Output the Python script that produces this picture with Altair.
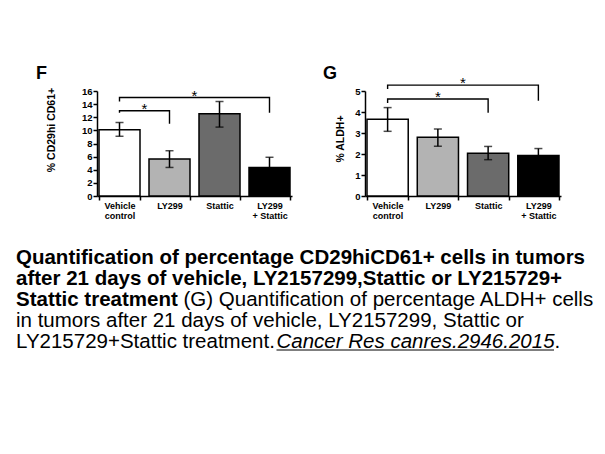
import altair as alt
import pandas as pd

FONT = "Liberation Sans"

# Treatment groups; "\n" breaks an axis label over two lines
groups = ["Vehicle\ncontrol", "LY299", "Stattic", "LY299\n+ Stattic"]
palette = ["#ffffff", "#b3b3b3", "#6b6b6b", "#000000"]

# Panel F: % CD29hi CD61+ (mean, lower and upper error)
cd29_mean = [10.1, 5.65, 12.55, 4.35]
cd29_low = [9.1, 4.35, 10.5, 2.8]
cd29_high = [11.2, 6.9, 14.4, 5.9]

# Panel G: % ALDH+ (mean, lower and upper error)
aldh_mean = [3.66, 2.8, 2.04, 1.93]
aldh_low = [3.08, 2.37, 1.73, 1.6]
aldh_high = [4.21, 3.19, 2.36, 2.26]

# Significance brackets: compared group indices, bracket level, leg ends
cd29_br_a = [0, 0]
cd29_br_b = [1, 3]
cd29_br_top = [13.0, 15.0]
cd29_br_left = [12.7, 14.4]
cd29_br_right = [11.0, 12.7]

aldh_br_a = [0, 0]
aldh_br_b = [2, 3]
aldh_br_top = [4.62, 5.28]
aldh_br_left = [4.43, 5.1]
aldh_br_right = [3.96, 4.53]

# Caption text
caption_bold = [
    "Quantification of percentage CD29hiCD61+ cells in tumors",
    "after 21 days of vehicle, LY2157299,Stattic or LY215729+",
    "Stattic treatment",
]
caption_plain = [
    "(G) Quantification of percentage ALDH+ cells",
    "in tumors after 21 days of vehicle, LY2157299, Stattic or",
    "LY215729+Stattic treatment.",
    ".",
]
caption_cite = "Cancer Res canres.2946.2015"

PAD_INNER = 0.18
PAD_OUTER = 0.04
# linear index domain that lines up with the band centres of the x scale
IDX_LO = -(PAD_OUTER + (1 - PAD_INNER) / 2)
IDX_HI = len(groups) - 1 + PAD_OUTER + (1 - PAD_INNER) / 2


def label(text, x, y, size, weight="bold", style="normal", align="left",
          baseline="alphabetic", angle=0):
    return alt.Chart(pd.DataFrame({"t": [text]})).mark_text(
        align=align, baseline=baseline, fontSize=size, fontWeight=weight,
        fontStyle=style, font=FONT, color="black", angle=angle,
    ).encode(text="t:N", x=alt.value(x), y=alt.value(y))


def panel(mean, low, high, br_a, br_b, br_top, br_left, br_right,
          ymax, ystep, letter, ytitle, letter_x, title_x, title_y, width, height):
    df = pd.DataFrame({"group": groups, "mean": mean, "low": low, "high": high})
    yscale = alt.Scale(domain=[0, ymax], nice=False, zero=True)
    yaxis = alt.Axis(title=None, values=list(range(0, ymax + 1, ystep)))
    xscale = alt.Scale(paddingInner=PAD_INNER, paddingOuter=PAD_OUTER)
    xaxis = alt.Axis(title=None, labelAngle=0, tickBand="extent",
                     labelExpr="split(datum.label, '\\n')",
                     labelLineHeight=10.5, labelPadding=1, labelFontSize=9)
    xband = alt.X("group:N", sort=groups, scale=xscale, axis=xaxis)

    def yenc(field):
        return alt.Y(field, scale=yscale, axis=yaxis)

    base = alt.Chart(df)
    bars = base.mark_bar(stroke="black", strokeWidth=1.5).encode(
        x=xband, y=yenc("mean:Q"),
        fill=alt.Fill("group:N", sort=groups,
                      scale=alt.Scale(domain=groups, range=palette), legend=None),
    )
    err = base.mark_rule(color="black", strokeWidth=1.5).encode(
        x=xband, y=yenc("low:Q"), y2="high:Q")
    cap_hi = base.mark_tick(color="black", thickness=1.5, size=8).encode(
        x=xband, y=yenc("high:Q"))
    cap_lo = base.mark_tick(color="black", thickness=1.5, size=8).encode(
        x=xband, y=yenc("low:Q"))
    data_layer = alt.layer(bars, err, cap_hi, cap_lo)

    # bracket paths: left leg, bar, right leg
    rows = []
    for k in range(len(br_a)):
        pts = [(br_a[k], br_left[k]), (br_a[k], br_top[k]),
               (br_b[k], br_top[k]), (br_b[k], br_right[k])]
        for s, (p, v) in enumerate(pts):
            rows.append({"bracket": k, "step": s, "pos": p, "val": v})
    br_df = pd.DataFrame(rows)
    xidx = alt.Scale(domain=[IDX_LO, IDX_HI], nice=False, zero=False)
    brackets = alt.Chart(br_df).mark_line(color="black", strokeWidth=1.4).encode(
        x=alt.X("pos:Q", scale=xidx, axis=None),
        y=yenc("val:Q"),
        detail="bracket:N", order="step:O")
    star_df = pd.DataFrame({"a": br_a, "b": br_b, "top": br_top})
    stars = alt.Chart(star_df).transform_calculate(
        mid="(datum.a + datum.b) / 2"
    ).mark_text(text="*", fontSize=15, font=FONT, color="black",
                baseline="alphabetic", dy=3).encode(
        x=alt.X("mid:Q", scale=xidx, axis=None),
        y=yenc("top:Q"))
    notes = alt.layer(brackets, stars)

    tag = label(letter, letter_x, -12, 18)
    title = label(ytitle, title_x, title_y, 10.5, align="center",
                  baseline="middle", angle=270)

    return alt.layer(data_layer, notes, tag, title).resolve_scale(
        x="independent").properties(width=width, height=height)


panel_f = panel(cd29_mean, cd29_low, cd29_high, cd29_br_a, cd29_br_b, cd29_br_top,
                cd29_br_left, cd29_br_right, 16, 2, "F", "% CD29hi CD61+",
                -61, -45, 39, 195, 105)
panel_g = panel(aldh_mean, aldh_low, aldh_high, aldh_br_a, aldh_br_b, aldh_br_top,
                aldh_br_left, aldh_br_right, 5, 1, "G", "% ALDH+",
                -42, -24.5, 48, 196, 105)

# caption block: five lines, mixed bold / regular / italic runs
BOLD = 20.5
PLAIN = 20.5
LEFT = -81
base_y = [22, 43, 64, 85, 106]
cap_layers = [
    label(caption_bold[0], LEFT, base_y[0], BOLD),
    label(caption_bold[1], LEFT, base_y[1], BOLD),
    label(caption_bold[2], LEFT, base_y[2], BOLD),
    label(caption_plain[0], LEFT + 167.5, base_y[2], PLAIN, weight="normal"),
    label(caption_plain[1], LEFT, base_y[3], PLAIN, weight="normal"),
    label(caption_plain[2], LEFT, base_y[4], PLAIN, weight="normal"),
    label(caption_cite, LEFT + 260.5, base_y[4], PLAIN, weight="normal", style="italic"),
    label(caption_plain[3], LEFT + 538.5, base_y[4], PLAIN, weight="normal"),
    alt.Chart(pd.DataFrame({"t": [0]})).mark_rule(color="black", strokeWidth=1).encode(
        x=alt.value(LEFT + 260.5), x2=alt.value(LEFT + 538), y=alt.value(base_y[4] + 2.5)),
]
caption = alt.layer(*cap_layers).properties(width=480, height=112)

chart = alt.vconcat(
    alt.hconcat(panel_f, panel_g, spacing=31),
    caption,
    spacing=20.5,
).properties(
    padding={"left": 16, "top": 65, "right": 0, "bottom": 0}
).configure_view(stroke=None).configure_axis(
    domainColor="black", domainWidth=1.5, tickColor="black", tickWidth=1.5,
    tickSize=4, labelColor="black", labelFont=FONT, labelFontWeight="bold",
    labelFontSize=9.5, labelPadding=1, grid=False,
)

chart.save("out.html", embed_options={"renderer": "svg", "actions": False})
